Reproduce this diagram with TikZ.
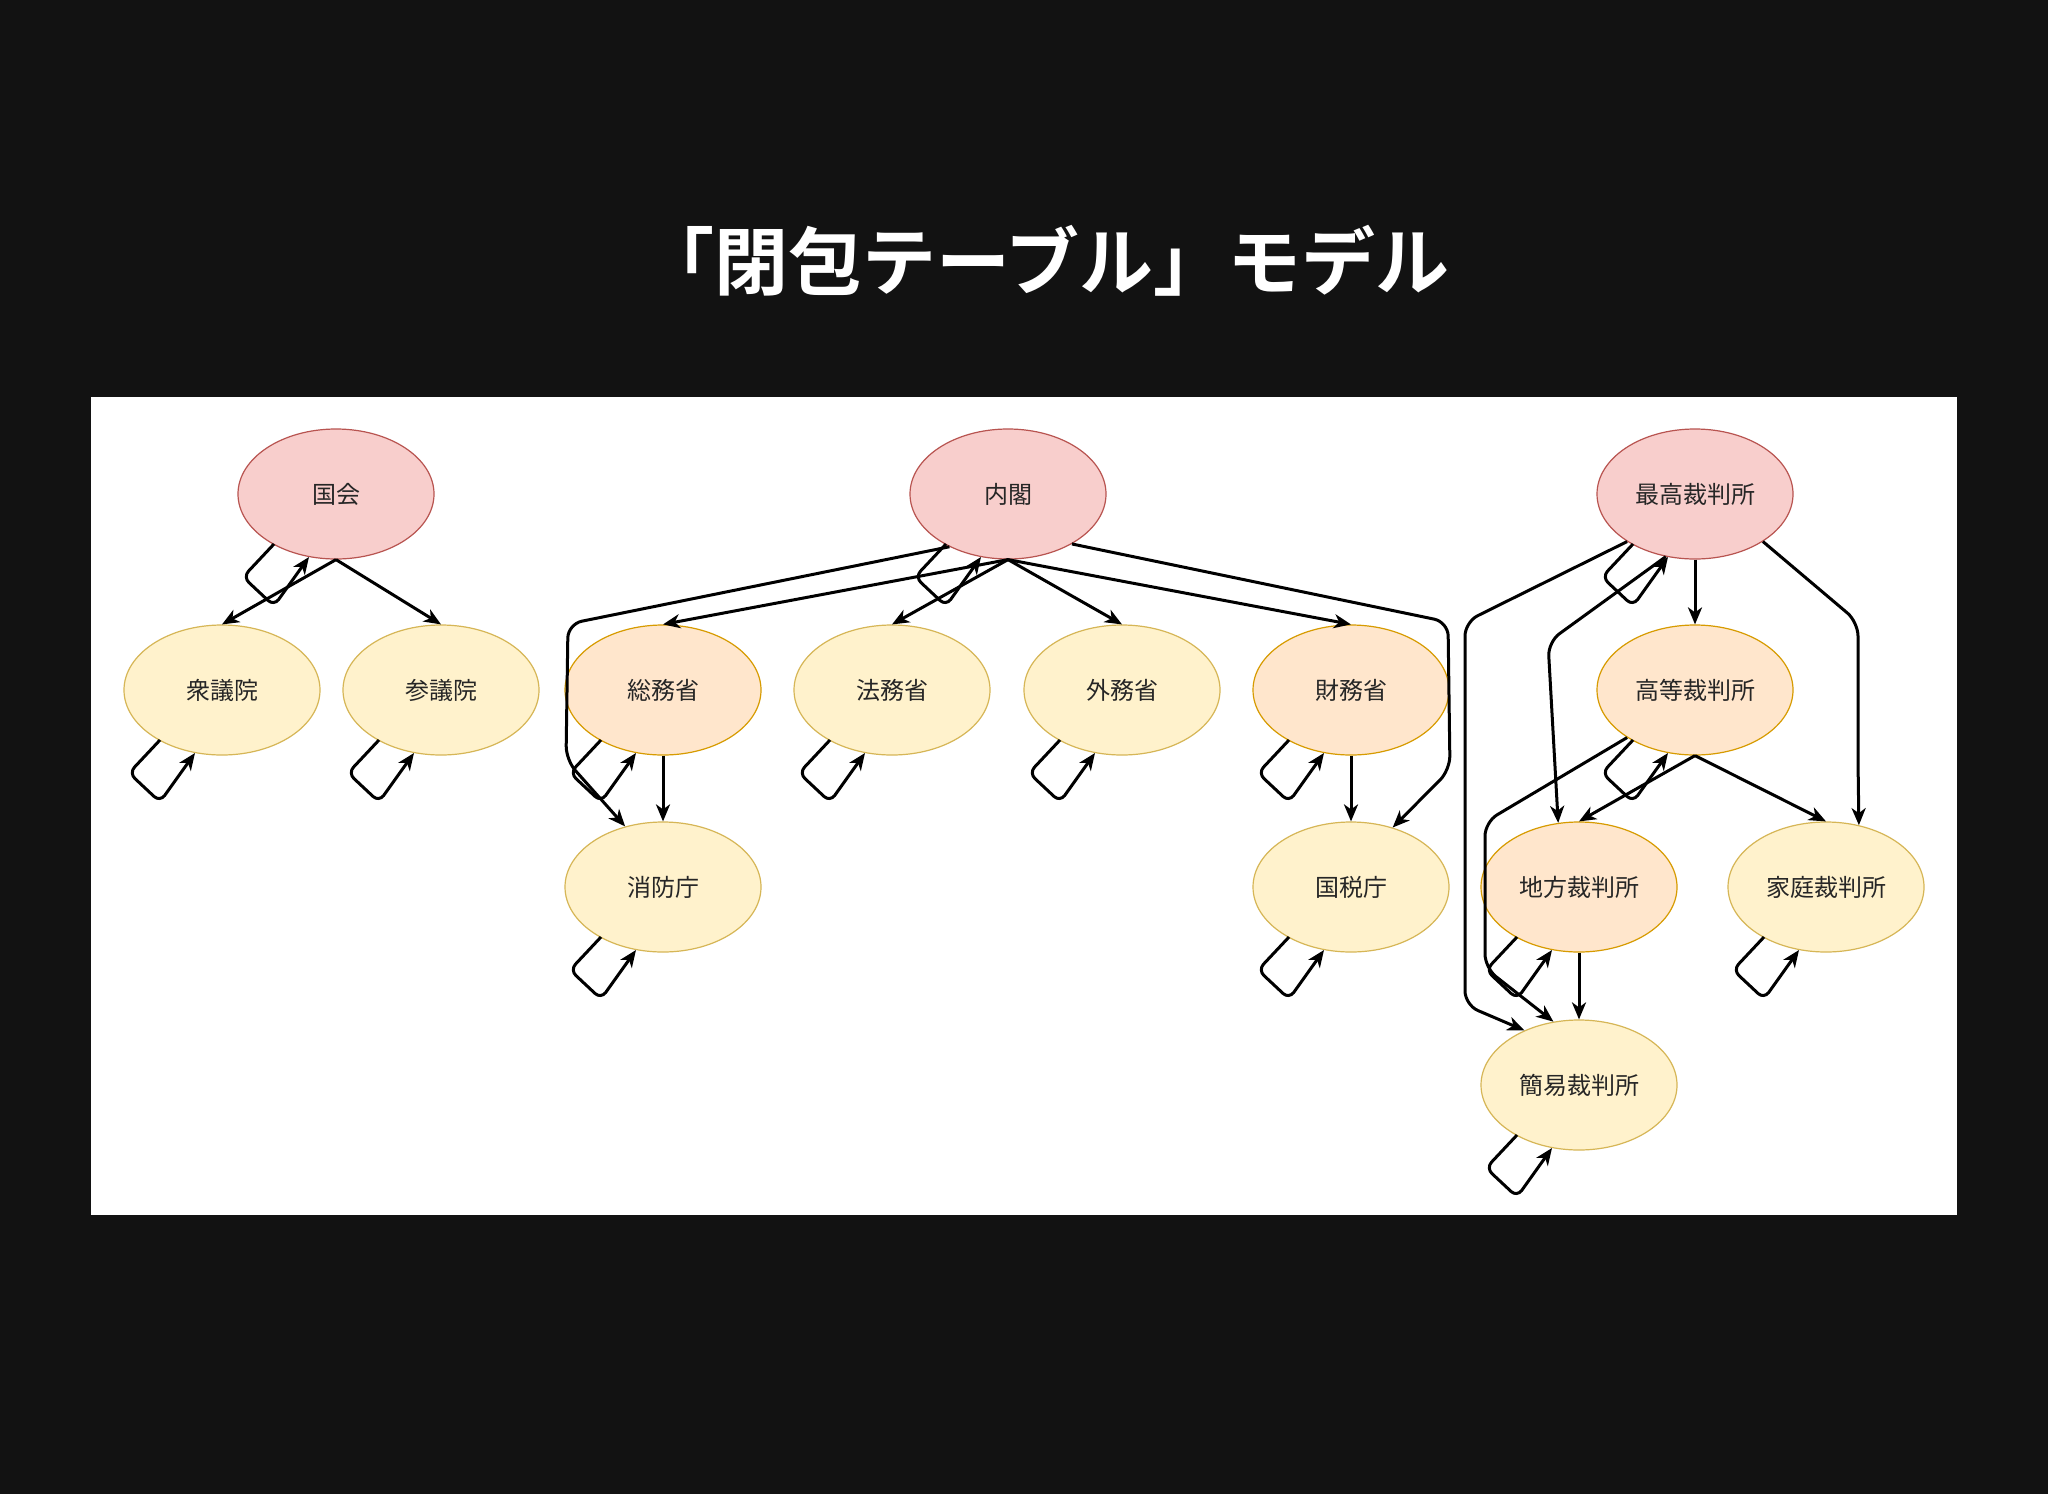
\documentclass[tikz,border=0pt]{standalone}
\usepackage{fontspec}
\setmainfont{Noto Sans CJK JP}
\newfontfamily\titlefont{Noto Sans CJK JP Bold}
\usetikzlibrary{shapes.geometric,arrows.meta,calc}
\definecolor{bgc}{HTML}{121212}
\definecolor{pinkf}{HTML}{F8CECC}\definecolor{pinkd}{HTML}{B85450}
\definecolor{yelf}{HTML}{FFF2CC}\definecolor{yeld}{HTML}{D6B656}
\definecolor{orf}{HTML}{FFE6CC}\definecolor{ord}{HTML}{D79B00}
\tikzset{
  base/.style={ellipse,minimum width=196pt,minimum height=130pt,inner sep=0pt,line width=1.2pt,font=\fontsize{24}{28}\selectfont,text=black!85},
  pinkn/.style={base,fill=pinkf,draw=pinkd},
  yeln/.style={base,fill=yelf,draw=yeld},
  orn/.style={base,fill=orf,draw=ord},
  edge/.style={line width=3pt,-{Stealth[length=17pt,width=14pt,inset=5pt]},rounded corners=14pt},
}
\newcommand{\selfloopx}[1]{\draw[edge,rounded corners=8pt] ($(#1)+(-62,50)$) -- ($(#1)+(-93,83)$) -- ($(#1)+(-62,112)$) -- ($(#1)+(-27,63)$);}
\begin{document}
\begin{tikzpicture}[x=1pt,y=-1pt]
\fill[bgc] (0,0) rectangle (2048,1494);
\useasboundingbox (0,0) rectangle (2048,1494);
\fill[white] (91,397) rectangle (1957,1215);
\node[text=white,font=\titlefont\fontsize{74}{80}\selectfont] (title) at (1045,261) {「閉包テーブル」モデル};
\node[pinkn] (kokkai) at (336,494) {国会};
\node[pinkn] (naikaku) at (1008,494) {内閣};
\node[pinkn] (saiko) at (1695,494) {最高裁判所};
\node[yeln] (shugi) at (222,690) {衆議院};
\node[yeln] (sangi) at (441,690) {参議院};
\node[orn] (somu) at (663,690) {総務省};
\node[yeln] (homu) at (892,690) {法務省};
\node[yeln] (gaimu) at (1122,690) {外務省};
\node[orn] (zaimu) at (1351,690) {財務省};
\node[orn] (koto) at (1695,690) {高等裁判所};
\node[yeln] (shobo) at (663,887) {消防庁};
\node[yeln] (kokuzei) at (1351,887) {国税庁};
\node[orn] (chiho) at (1579,887) {地方裁判所};
\node[yeln] (katei) at (1826,887) {家庭裁判所};
\node[yeln] (kan) at (1579,1085) {簡易裁判所};
% self loops
\foreach \n in {kokkai,naikaku,saiko,shugi,sangi,somu,homu,gaimu,zaimu,koto,shobo,kokuzei,chiho,katei,kan}{\selfloopx{\n}}
% edges
\draw[edge] (kokkai.south) -- (shugi.north);
\draw[edge] (kokkai.south) -- (sangi.north);
\draw[edge] (naikaku.south) -- (somu.north);
\draw[edge] (naikaku.south) -- (homu.north);
\draw[edge] (naikaku.south) -- (gaimu.north);
\draw[edge] (naikaku.south) -- (zaimu.north);
\coordinate (c1) at (568,624); \coordinate (c2) at (566,760);
\draw[edge] (naikaku.222) -- (c1) -- (c2) -- (shobo.122);
\coordinate (c3) at (1448,622); \coordinate (c4) at (1450,770);
\draw[edge] (naikaku.-38) -- (c3) -- (c4) -- (kokuzei.55);
\draw[edge] (somu.south) -- (shobo.north);
\draw[edge] (zaimu.south) -- (kokuzei.north);
\draw[edge] (saiko.south) -- (koto.north);
\coordinate (c5) at (1858,622); \coordinate (c6) at (1858,760);
\draw[edge] (saiko.-35) -- (c5) -- (c6) -- (katei.62);
\coordinate (c7) at (1548,642);
\draw[edge] (saiko.245) -- (c7) -- (chiho.108);
\coordinate (c8) at (1465,622); \coordinate (c9) at (1465,1005);
\draw[edge] (saiko.215) -- (c8) -- (c9) -- (kan.135);
\coordinate (c10) at (1485,822); \coordinate (c11) at (1485,968);
\draw[edge] (koto.215) -- (c10) -- (c11) -- (kan.112);
\draw[edge] (koto.south) -- (chiho.north);
\draw[edge] (koto.south) -- (katei.north);
\draw[edge] (chiho.south) -- (kan.north);
\end{tikzpicture}
\end{document}
